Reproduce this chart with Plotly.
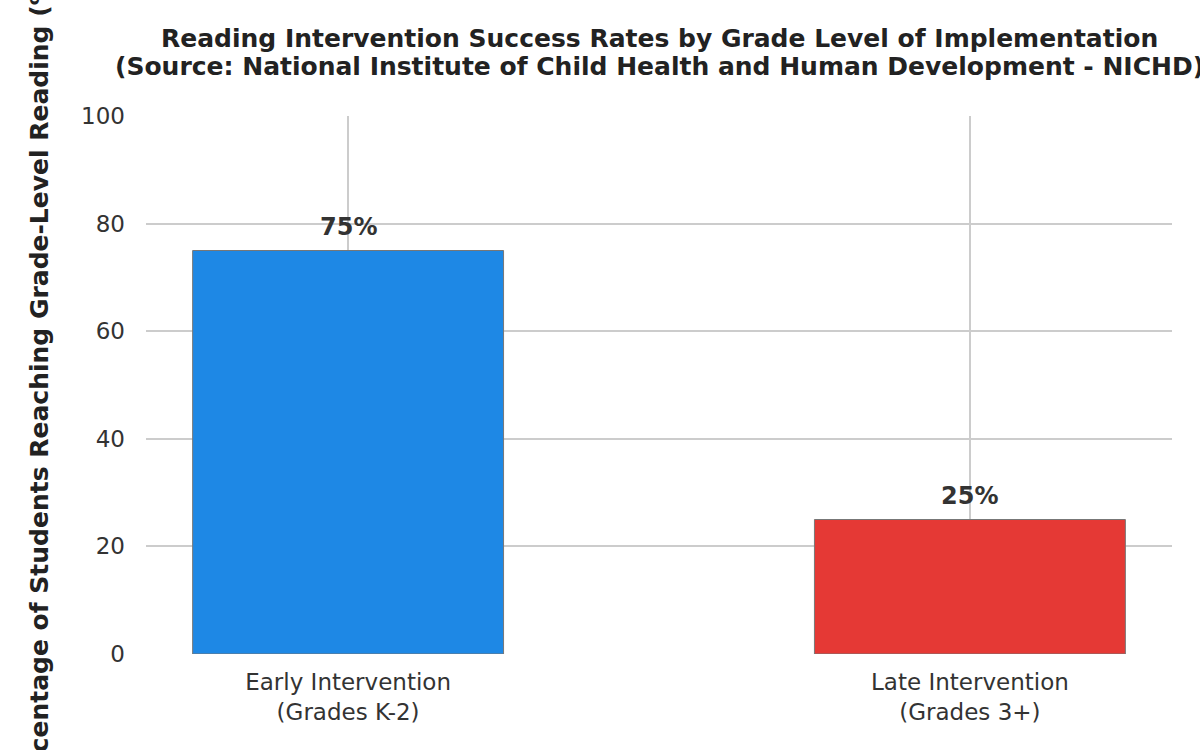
import plotly.graph_objects as go

categories = ["Early Intervention<br>(Grades K-2)", "Late Intervention<br>(Grades 3+)"]
values = [75, 25]
labels = ["75%", "25%"]
colors = ["#1E88E5", "#E53935"]
y_ticks = [0, 20, 40, 60, 80, 100]
title_lines = ["Reading Intervention Success Rates by Grade Level of Implementation",
               "(Source: National Institute of Child Health and Human Development - NICHD)"]
y_title = "Percentage of Students Reaching Grade-Level Reading (%)"

FONT = "DejaVu Sans"

fig = go.Figure()
fig.add_trace(go.Bar(
    x=categories, y=values, width=0.5,
    marker=dict(color=colors, line=dict(color="#777777", width=1)),
    hoverinfo="skip", showlegend=False,
))

for c, v, t in zip(categories, values, labels):
    fig.add_annotation(x=c, y=v, text="<b>%s</b>" % t, showarrow=False,
                       xref="x", yref="y", yanchor="bottom", yshift=8,
                       font=dict(family=FONT, size=24, color="#333333"))

fig.add_annotation(text="<b>%s</b>" % y_title,
                   textangle=-90, xref="paper", yref="paper",
                   x=(39 - 146) / 1026, y=0.5, xanchor="center", yanchor="middle",
                   showarrow=False, font=dict(family=FONT, size=25, color="#222222"))

for line, shift in zip(title_lines, [116 - 38, 116 - 66]):
    fig.add_annotation(text="<b>%s</b>" % line, xref="paper", yref="paper",
                       x=0.5, y=1, xanchor="center", yanchor="middle", yshift=shift,
                       showarrow=False, font=dict(family=FONT, size=25, color="#222222"))

fig.update_layout(
    width=1200, height=750,
    margin=dict(l=146, r=28, t=116, b=96),
    paper_bgcolor="white", plot_bgcolor="white",
    font=dict(family=FONT, color="#333333"),
    xaxis=dict(range=[-0.325, 1.325], showgrid=True, gridcolor="#cccccc", gridwidth=1.5,
               showline=False, zeroline=False, ticks="",
               tickfont=dict(family=FONT, size=23, color="#333333"),
               ticklabelstandoff=12),
    yaxis=dict(range=[0, 100], tickvals=y_ticks, showgrid=True, gridcolor="#cccccc",
               gridwidth=1.5, showline=False, zeroline=False, ticks="",
               tickfont=dict(family=FONT, size=23, color="#333333"),
               ticklabelstandoff=20),
    bargap=0.5,
)

fig.write_html("out.html")
